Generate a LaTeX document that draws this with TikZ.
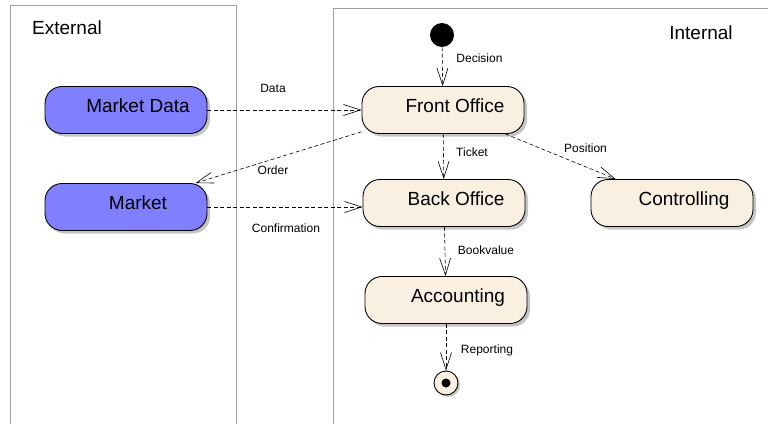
\documentclass[tikz,border=0pt]{standalone}
\usepackage{fontspec}
\setmainfont{Liberation Sans}
\usetikzlibrary{arrows.meta,shadows}
\definecolor{extblue}{RGB}{128,128,255}
\definecolor{intcream}{RGB}{250,240,225}
\definecolor{lanegray}{RGB}{160,160,160}

\begin{document}
\begin{tikzpicture}[x=1pt,y=-1pt,
    state/.style={draw, line width=0.9pt, rounded corners=17pt, minimum width=162pt, minimum height=47pt,
        font=\fontsize{19}{19}\selectfont, text height=14pt, text depth=10pt,
        execute at begin node={\hspace*{24pt}},
        drop shadow={shadow xshift=3pt, shadow yshift=-3pt, fill=black!45, opacity=0.5}},
    flow/.style={dash pattern=on 4pt off 2.5pt, line width=0.6pt, -{Straight Barb[length=17pt,width=11pt]}},
    lbl/.style={font=\fontsize{12}{12}\selectfont, inner sep=0pt}]
    \clip (0,0) rectangle (768,423);
    % Lanes
    \draw[lanegray, line width=0.8pt] (10,5) rectangle (236,440);
    \draw[lanegray, line width=0.8pt] (333,8) rectangle (790,440);
    \node[font=\fontsize{19}{19}\selectfont] (ext) at (67,28) {External};
    \node[font=\fontsize{19}{19}\selectfont] (int) at (701,33) {Internal};

    % States
    \node[state, fill=extblue] (mdata) at (126,110) {Market Data};
    \node[state, fill=extblue] (market) at (126,207) {Market};
    \node[state, fill=intcream] (front) at (443,110) {Front Office};
    \node[state, fill=intcream] (back) at (444,203) {Back Office};
    \node[state, fill=intcream] (ctrl) at (672,203) {Controlling};
    \node[state, fill=intcream] (acct) at (446,300) {Accounting};
    \node[circle, fill=black, minimum size=24pt, inner sep=0pt] (start) at (442,35) {};
    \node[circle, draw, line width=0.9pt, fill=intcream, minimum size=24pt, inner sep=0pt,
        drop shadow={shadow xshift=2pt, shadow yshift=-2pt, fill=black!45, opacity=0.5}] (stop) at (446,383) {};
    \fill (stop.center) circle (4.5pt);

    % Flows
    \draw[flow] (start) -- (front);
    \draw[flow] (mdata) -- (front);
    \draw[flow] (front.195) -- (market.19);
    \draw[flow] (market) -- (market -| back.west);
    \draw[flow] (front) -- (back);
    \draw[flow] (front.-21) -- (ctrl.157);
    \draw[flow] (back) -- (acct);
    \draw[flow] (acct) -- (stop);

    \node[lbl] (lData) at (273,88) {Data};
    \node[lbl] (lOrder) at (273,170) {Order};
    \node[lbl] (lConf) at (286,228) {Confirmation};
    \node[lbl] (lDec) at (479.5,58.5) {Decision};
    \node[lbl] (lTick) at (472,152.5) {Ticket};
    \node[lbl] (lPos) at (585.5,148) {Position};
    \node[lbl] (lBook) at (486,250) {Bookvalue};
    \node[lbl] (lRep) at (487,350) {Reporting};
\end{tikzpicture}
\end{document}
